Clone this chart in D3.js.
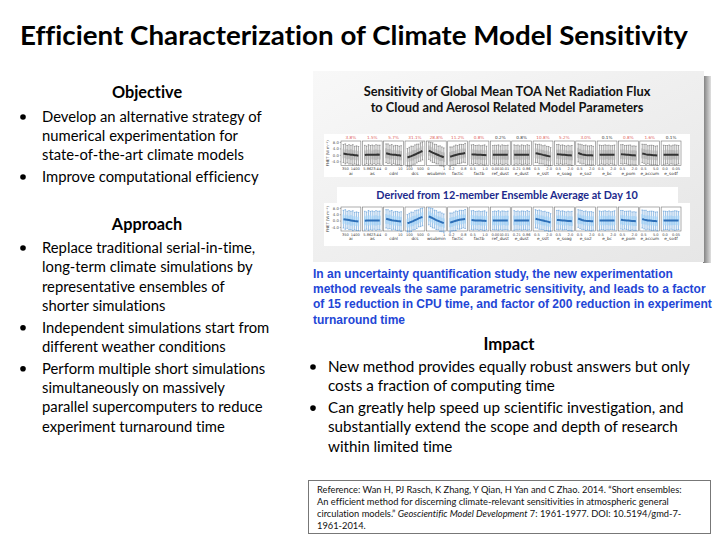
<!DOCTYPE html>
<html><head><meta charset="utf-8">
<script src="https://cdn.jsdelivr.net/npm/d3@7"></script>
<style>body{margin:0;background:#fff}svg{display:block}text{font-variant-ligatures:none;font-feature-settings:"liga" 0,"dlig" 0}</style>
</head><body><svg id="s" width="720" height="540"></svg>
<script>
// ---------- data ----------
const params = ["ai","as","cdnl","dcs","wsubmin","factic","factb","ref_dust","e_dust","e_sslt","e_soag","e_so2","e_bc","e_pom","e_accum","e_so4f"];
const rangeLo = ["350","5.86","0","100","0","0.2","0.5","0.001","0.21","0.5","0.5","0.5","0.5","0.5","0.5","0.0"];
const rangeHi = ["1400","23.44","10","500","1","0.8","1.0","0.01","0.86","2.0","2.0","2.0","2.0","2.0","5.0","0.05"];
const varPct = ["3.8%","1.5%","5.7%","31.1%","28.8%","11.2%","0.8%","0.2%","0.8%","10.8%","5.2%","3.0%","0.1%","0.8%","1.6%","0.1%"];
const pctSignificant = [1,1,1,1,1,1,1,0,0,1,1,1,0,1,1,0];
const yTicks = [8,4,0,-4];
const yTickLabels = ["8.0","4.0","0.0","-4.0"];

// mean FNET response at 9 parameter levels (top: long runs, bottom: 12-member ensemble day 10)
const meansTop = [
 [0.8,0.6,0.4,0.3,0.1,0.0,-0.2,-0.3,-0.5],
 [-0.1,0.0,0.0,0.1,0.0,0.1,0.1,0.2,0.1],
 [1.0,0.7,0.4,0.2,0.1,0.0,-0.2,-0.3,-0.5],
 [-1.6,-1.2,-0.8,-0.3,0.2,0.8,1.3,1.8,2.4],
 [2.6,2.0,1.4,0.9,0.4,-0.1,-0.6,-1.0,-1.5],
 [-1.2,-0.8,-0.4,-0.1,0.2,0.5,0.7,0.9,1.1],
 [0.3,0.2,0.2,0.1,0.0,0.0,-0.1,-0.1,-0.2],
 [0.1,0.0,0.1,0.0,0.0,0.1,0.0,0.1,0.0],
 [0.0,0.1,0.1,0.0,0.1,0.0,0.0,0.1,0.1],
 [1.0,0.8,0.5,0.3,0.0,-0.2,-0.5,-0.8,-1.1],
 [0.4,0.3,0.2,0.1,0.0,-0.1,-0.2,-0.3,-0.4],
 [1.2,0.7,0.3,0.1,-0.1,-0.2,-0.3,-0.3,-0.4],
 [0.0,0.1,0.0,0.0,0.1,0.0,0.1,0.0,0.0],
 [0.4,0.3,0.2,0.1,0.0,-0.1,-0.2,-0.3,-0.4],
 [0.9,0.6,0.3,0.1,0.0,-0.1,-0.2,-0.3,-0.4],
 [0.0,0.0,0.1,0.0,0.0,0.1,0.0,0.0,0.1]
];
const meansBottom = [
 [0.9,0.7,0.5,0.3,0.1,-0.1,-0.3,-0.4,-0.6],
 [-0.1,0.0,0.1,0.1,0.0,0.1,0.1,0.1,0.1],
 [1.1,0.8,0.5,0.2,0.0,-0.1,-0.3,-0.4,-0.6],
 [-1.7,-1.3,-0.8,-0.3,0.3,0.8,1.4,1.9,2.3],
 [2.7,2.1,1.5,0.9,0.3,-0.2,-0.7,-1.1,-1.6],
 [-1.3,-0.9,-0.5,-0.1,0.2,0.5,0.7,0.9,1.0],
 [0.3,0.2,0.1,0.1,0.0,0.0,-0.1,-0.1,-0.2],
 [0.0,0.1,0.0,0.1,0.0,0.0,0.1,0.0,0.0],
 [0.1,0.0,0.1,0.0,0.0,0.1,0.0,0.1,0.0],
 [1.1,0.8,0.6,0.3,0.0,-0.3,-0.5,-0.8,-1.2],
 [0.4,0.3,0.2,0.1,0.0,-0.1,-0.2,-0.3,-0.4],
 [1.3,0.8,0.4,0.1,-0.1,-0.2,-0.3,-0.4,-0.4],
 [0.0,0.0,0.1,0.0,0.0,0.1,0.0,0.0,0.1],
 [0.5,0.3,0.2,0.1,0.0,-0.1,-0.2,-0.3,-0.4],
 [1.0,0.6,0.3,0.1,0.0,-0.1,-0.2,-0.3,-0.5],
 [0.0,0.1,0.0,0.0,0.1,0.0,0.0,0.1,0.0]
];
// inter-quartile half-height and whisker half-height of each bar
const boxHalf = [
 [3.0,2.6,3.2,2.8,3.4,2.9,3.1,2.7,3.0],
 [2.8,3.2,3.0,3.4,2.7,3.1,3.3,2.9,3.0],
 [3.1,2.9,3.3,2.7,3.0,3.2,2.8,3.1,2.9],
 [2.7,3.0,2.9,3.2,2.8,3.1,3.0,2.9,3.1],
 [3.2,2.9,3.0,2.8,3.1,2.9,3.2,2.8,3.0],
 [2.9,3.1,2.8,3.0,3.2,2.9,3.1,3.0,2.8],
 [3.0,3.3,2.9,3.1,2.8,3.2,3.0,2.9,3.1],
 [2.9,3.0,3.2,2.8,3.1,3.0,2.9,3.2,3.0],
 [3.1,2.8,3.0,3.3,2.9,3.1,3.0,2.8,3.2],
 [3.0,3.2,2.9,3.0,3.1,2.8,3.2,3.0,2.9],
 [2.8,3.0,3.1,2.9,3.2,3.0,2.8,3.1,3.0],
 [3.2,3.0,2.8,3.1,2.9,3.0,3.2,2.9,3.1],
 [3.0,2.9,3.1,3.0,2.8,3.2,3.0,3.1,2.9],
 [2.9,3.1,3.0,2.8,3.1,2.9,3.0,3.2,3.0],
 [3.1,3.0,2.9,3.2,3.0,2.8,3.1,2.9,3.0],
 [3.0,2.9,3.2,3.0,3.1,2.9,2.8,3.0,3.1]
];
const whiskHalf = [
 [5.6,6.2,5.4,6.0,5.8,6.3,5.5,5.9,5.7],
 [6.0,5.5,6.3,5.7,6.1,5.6,6.2,5.8,5.9],
 [5.8,6.1,5.6,6.2,5.5,5.9,6.0,5.7,6.2],
 [5.5,5.9,6.2,5.6,6.0,5.8,5.4,5.7,5.6],
 [5.4,5.8,6.1,5.7,6.0,5.6,6.2,5.9,5.8],
 [6.1,5.7,5.9,6.2,5.6,6.0,5.8,5.5,6.0],
 [5.9,6.2,5.6,5.8,6.1,5.7,6.0,6.3,5.6],
 [5.7,6.0,5.8,6.2,5.6,6.1,5.9,5.7,6.0],
 [6.2,5.8,6.0,5.6,6.1,5.9,5.7,6.2,5.8],
 [5.8,5.6,6.1,5.9,5.7,6.2,5.8,6.0,5.6],
 [6.0,6.2,5.7,6.1,5.8,5.6,6.1,5.9,6.2],
 [5.6,5.9,6.0,5.7,6.2,5.8,5.9,6.1,5.7],
 [6.1,5.7,5.9,6.2,5.8,6.0,5.6,5.8,6.1],
 [5.9,6.1,5.6,5.8,6.0,6.2,5.7,5.9,5.8],
 [5.7,5.9,6.2,5.6,5.9,6.1,6.0,5.7,6.0],
 [6.0,5.8,5.7,6.1,5.6,5.9,6.2,6.0,5.7]
];

// ---------- slide texts ----------
const slideTitle = "Efficient Characterization of Climate Model Sensitivity";
const objectiveBullets = [
 ["Develop an alternative strategy of","numerical experimentation for","state-of-the-art climate models"],
 ["Improve computational efficiency"]
];
const approachBullets = [
 ["Replace traditional serial-in-time,","long-term climate simulations by","representative ensembles of","shorter simulations"],
 ["Independent simulations start from","different weather conditions"],
 ["Perform multiple short simulations","simultaneously on massively","parallel supercomputers to reduce","experiment turnaround time"]
];
const chartTitle = ["Sensitivity of Global Mean TOA Net Radiation Flux","to Cloud and Aerosol Related Model Parameters"];
const bannerText = "Derived from 12-member Ensemble Average at Day 10";
const findingLines = ["In an uncertainty quantification study, the new experimentation",
 "method reveals the same parametric sensitivity, and leads to a factor",
 "of 15 reduction in CPU time, and factor of 200 reduction in experiment",
 "turnaround time"];
const impactBullets = [
 ["New method provides equally robust answers but only","costs a fraction of computing time"],
 ["Can greatly help speed up scientific investigation, and","substantially extend the scope and depth of research","within limited time"]
];

// ---------- drawing ----------
const svg = d3.select("#s");
const body = "Lato, 'Open Sans', sans-serif";
svg.append("rect").attr("width",720).attr("height",540).attr("fill","#fff");

svg.append("text").attr("x",20).attr("y",45).attr("font-family",body).attr("font-weight",700)
  .attr("font-size",26.5).attr("textLength",668).attr("lengthAdjust","spacingAndGlyphs").attr("fill","#000").text(slideTitle);

function bulletBlock(head, hx, hy, bullets, bx, tx, y0, lh, gap, size){
  svg.append("text").attr("x",hx).attr("y",hy).attr("text-anchor","middle").attr("font-family",body)
    .attr("font-weight",700).attr("font-size",size+1.5).text(head);
  let y=y0;
  bullets.forEach(lines=>{
    svg.append("circle").attr("cx",bx).attr("cy",y-5).attr("r",2.8).attr("fill","#000");
    lines.forEach(l=>{
      svg.append("text").attr("x",tx).attr("y",y).attr("font-family",body).attr("font-size",size).attr("fill","#000").text(l);
      y+=lh;
    });
    y+=gap;
  });
}
bulletBlock("Objective",147,98,objectiveBullets,23,42,122,19,3,14.8);
bulletBlock("Approach",147,230,approachBullets,23,42,253,19.3,2.5,14.8);
bulletBlock("Impact",509,350,impactBullets,313,328,372,19.3,2.5,15.2);

// findings (blue)
findingLines.forEach((l,i)=>{
  svg.append("text").attr("x",313).attr("y",278+i*15.2).attr("font-family","'Liberation Sans', Arial, sans-serif")
   .attr("font-weight",700).attr("font-size",12).attr("fill","#2346d6").text(l);
});

// reference box
svg.append("rect").attr("x",308.5).attr("y",480.5).attr("width",402).attr("height",53).attr("fill","#fff").attr("stroke","#777");
const ref = svg.append("text").attr("font-family",body).attr("font-size",9.3).attr("fill","#111");
ref.append("tspan").attr("x",317).attr("y",492.5).text("Reference: Wan H, PJ Rasch, K Zhang, Y Qian, H Yan and C Zhao.  2014. \u201cShort ensembles:");
ref.append("tspan").attr("x",317).attr("y",504.5).text("An efficient method for discerning climate-relevant sensitivities in atmospheric general");
ref.append("tspan").attr("x",317).attr("y",516.5).text("circulation models.\u201d ");
ref.append("tspan").attr("font-style","italic").text("Geoscientific Model Development");
ref.append("tspan").text(" 7: 1961-1977. DOI: 10.5194/gmd-7-");
ref.append("tspan").attr("x",317).attr("y",528.5).text("1961-2014.");

// chart card
const defs = svg.append("defs");
const g1 = defs.append("linearGradient").attr("id","card").attr("x1",0).attr("y1",0).attr("x2",1).attr("y2",1);
g1.append("stop").attr("offset",0).attr("stop-color","#f8f8f8");
g1.append("stop").attr("offset",1).attr("stop-color","#e6e6e6");
const g2 = defs.append("linearGradient").attr("id","shadow").attr("x1",0).attr("y1",0).attr("x2",1).attr("y2",0);
g2.append("stop").attr("offset",0).attr("stop-color","#777");
g2.append("stop").attr("offset",1).attr("stop-color","#e0e0e0");
svg.append("rect").attr("x",703).attr("y",76).attr("width",8).attr("height",187).attr("fill","url(#shadow)");
svg.append("rect").attr("x",313).attr("y",71).attr("width",391).attr("height",191).attr("fill","url(#card)");

chartTitle.forEach((t,i)=>{
  svg.append("text").attr("x",507).attr("y",96+i*15.5).attr("text-anchor","middle").attr("font-family",body)
   .attr("font-weight",700).attr("font-size",12.8).attr("fill","#111").text(t);
});

// white strips
svg.append("rect").attr("x",324).attr("y",134).attr("width",366).attr("height",43).attr("fill","#fff");
svg.append("rect").attr("x",337).attr("y",187).attr("width",341).attr("height",16).attr("fill","#fff");
svg.append("text").attr("x",507).attr("y",198.5).attr("text-anchor","middle").attr("font-family",body)
   .attr("font-weight",700).attr("font-size",10.8).attr("fill","#1c2a8c").text(bannerText);
svg.append("rect").attr("x",324).attr("y",203).attr("width",366).attr("height",43).attr("fill","#fff");

const xBand = d3.scaleBand().domain(params).range([341,681]).paddingInner(0.07);
const levels = d3.range(9);

function drawRow(y0, h, means, colors, showPct){
  const y = d3.scaleLinear().domain([-6.6,8.6]).range([y0+h, y0]);
  params.forEach((p,i)=>{
    const x0 = xBand(p), w = xBand.bandwidth();
    const g = svg.append("g");
    g.append("rect").attr("x",x0).attr("y",y0).attr("width",w).attr("height",h).attr("fill","#fff").attr("stroke","#777").attr("stroke-width",0.6);
    const xs = d3.scalePoint().domain(levels).range([x0+1.5,x0+w-1.5]).padding(0.5);
    levels.forEach(k=>{
      const m = means[i][k], b = boxHalf[i][k], wh = whiskHalf[i][k], cx = xs(k);
      g.append("line").attr("x1",cx).attr("x2",cx).attr("y1",y(m-wh)).attr("y2",y(m+wh)).attr("stroke",colors.whisk).attr("stroke-width",0.5);
      [m-wh,m+wh].forEach(v=>g.append("line").attr("x1",cx-0.8).attr("x2",cx+0.8).attr("y1",y(v)).attr("y2",y(v)).attr("stroke",colors.whisk).attr("stroke-width",0.5));
      g.append("rect").attr("x",cx-0.75).attr("width",1.5).attr("y",y(m+b)).attr("height",y(m-b)-y(m+b)).attr("fill",colors.box);
    });
    g.append("path").datum(levels).attr("fill","none").attr("stroke",colors.mean).attr("stroke-width",2)
      .attr("d",d3.line().x(k=>xs(k)).y(k=>y(means[i][k])));
    g.append("text").attr("x",x0+1).attr("y",y0+h+4.5).attr("font-size",3.6).attr("font-family","'DejaVu Sans',sans-serif").attr("fill","#444").text(rangeLo[i]);
    g.append("text").attr("x",x0+w-1).attr("y",y0+h+4.5).attr("text-anchor","end").attr("font-size",3.6).attr("font-family","'DejaVu Sans',sans-serif").attr("fill","#444").text(rangeHi[i]);
    g.append("text").attr("x",x0+w/2).attr("y",y0+h+9).attr("text-anchor","middle").attr("font-size",4.2).attr("font-family","'DejaVu Sans',sans-serif").attr("fill","#333").text(p);
    if(showPct){
      g.append("text").attr("x",x0+w/2).attr("y",y0-2).attr("text-anchor","middle").attr("font-size",4.2).attr("font-family","'DejaVu Sans',sans-serif")
       .attr("fill",pctSignificant[i]?"#e0605a":"#333").text(varPct[i]);
    }
  });
  const ax = svg.append("g").attr("transform",`translate(${xBand(params[0])},0)`)
    .call(d3.axisLeft(y).tickValues(yTicks).tickFormat((d,i)=>yTickLabels[i]).tickSize(1.2).tickPadding(1));
  ax.select(".domain").remove();
  ax.selectAll("line").attr("stroke","#666").attr("stroke-width",0.5);
  ax.selectAll("text").attr("font-size",3.8).attr("font-family","'DejaVu Sans',sans-serif").attr("fill","#444");
  svg.append("text").attr("transform",`translate(329,${y0+h/2}) rotate(-90)`).attr("text-anchor","middle")
    .attr("font-size",3.8).attr("font-family","'DejaVu Sans',sans-serif").attr("fill","#444").text("FNET (W m\u207B\u00B2)");
}
drawRow(141,24.5,meansTop,{box:"#b3b3b3",whisk:"#555",mean:"#333"},true);
drawRow(207,24,meansBottom,{box:"#a6d2f5",whisk:"#3d86cf",mean:"#2d6fb8"},false);
</script></body></html>
